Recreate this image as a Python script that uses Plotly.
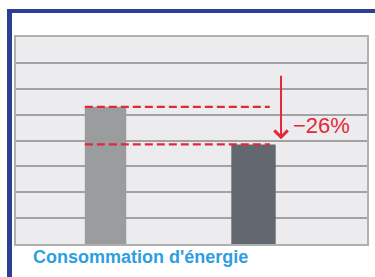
import plotly.graph_objects as go

categories = ["Avant", "Après"]
values = [5.3, 3.85]
bar_colors = ["#9b9c9e", "#636870"]
reduction_label = "−26%"
title_text = "Consommation d'énergie"

W, H = 375, 277
L, R, T, B = 16, 367, 37, 244

fig = go.Figure()
fig.add_trace(go.Bar(
    x=[0, 1], y=values, width=[0.28, 0.30],
    marker=dict(color=bar_colors, line=dict(width=0)),
    hoverinfo="skip",
))

red = "#e0293b"
# dashed reference lines
for v in values:
    fig.add_shape(type="line", xref="x", yref="y",
                  x0=-0.14, x1=1.11, y0=v, y1=v,
                  line=dict(color=red, width=2.2, dash="8px,4px"))

# arrow
fig.add_annotation(x=1.186, y=values[1] + 0.2, ax=1.186, ay=6.56,
                   xref="x", yref="y", axref="x", ayref="y",
                   showarrow=True, arrowhead=4, arrowsize=1.3, arrowwidth=2,
                   arrowcolor=red, text="")
fig.add_annotation(x=1.46, y=(values[0] + values[1]) / 2, xref="x", yref="y",
                   text=reduction_label, showarrow=False,
                   font=dict(family="Liberation Sans, Arial", size=22, color=red))

# title
fig.add_annotation(x=31 / W, y=1 - 257 / H, xref="paper", yref="paper",
                   xanchor="left", yanchor="middle", text="<b>" + title_text + "</b>",
                   showarrow=False,
                   font=dict(family="Liberation Sans, Arial", size=18, color="#2e9ee0"))

# blue frame
blue = "#2b3f93"
fig.add_shape(type="rect", xref="paper", yref="paper",
              x0=7 / W, x1=1.01, y0=1 - 13 / H, y1=1 - 9 / H,
              fillcolor=blue, line=dict(width=0), layer="above")
fig.add_shape(type="rect", xref="paper", yref="paper",
              x0=7 / W, x1=12 / W, y0=-0.01, y1=1 - 9 / H,
              fillcolor=blue, line=dict(width=0), layer="above")

fig.update_layout(
    width=W, height=H,
    margin=dict(l=0, r=0, t=0, b=0),
    paper_bgcolor="white",
    plot_bgcolor="#ececee",
    showlegend=False,
    xaxis=dict(domain=[L / W, R / W], range=[-0.605, 1.767],
               showticklabels=False, showgrid=False, zeroline=False,
               showline=True, mirror=True, linecolor="#b0b0b0", linewidth=1.5,
               fixedrange=True),
    yaxis=dict(domain=[1 - B / H, 1 - T / H], range=[0, 8], dtick=1,
               showticklabels=False, showgrid=True, gridcolor="#a2a2a4", gridwidth=1.5,
               zeroline=False, showline=True, mirror=True, linecolor="#b0b0b0",
               linewidth=1.5, fixedrange=True),
)

fig.write_html("out.html", config={"displayModeBar": False},
               post_script="document.body.style.margin='0';document.body.style.overflow='hidden';")
